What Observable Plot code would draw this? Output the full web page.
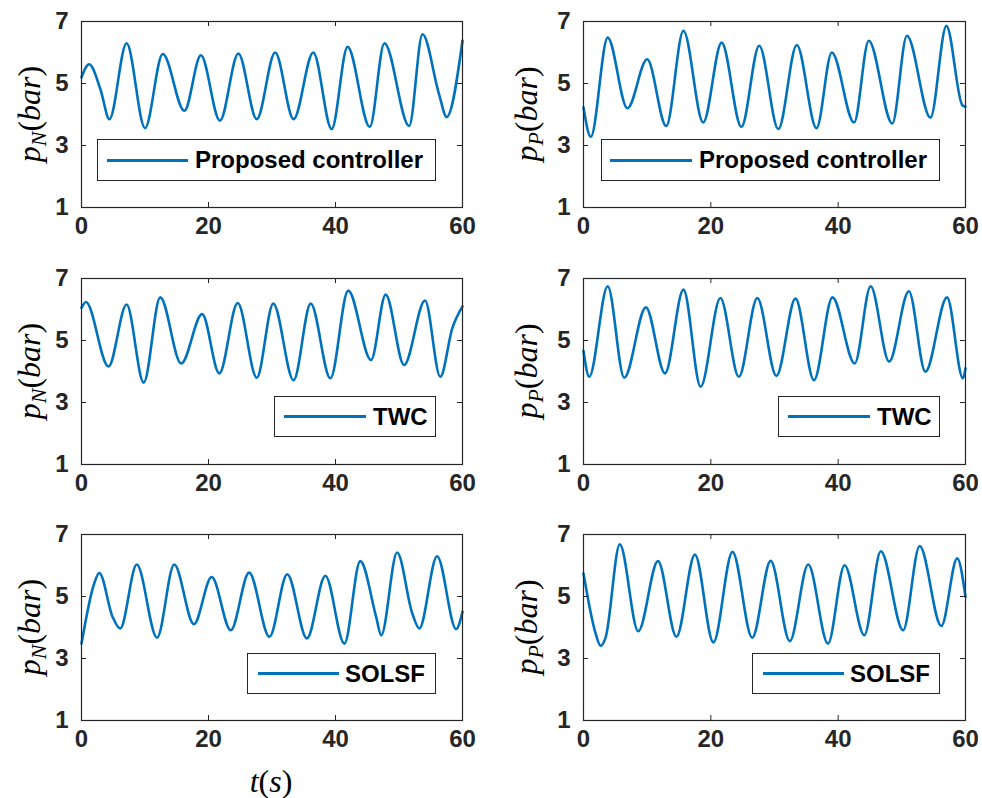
<!DOCTYPE html>
<html>
<head>
<meta charset="utf-8">
<script src="https://cdn.jsdelivr.net/npm/d3@7"></script>
<script src="https://cdn.jsdelivr.net/npm/@observablehq/plot@0.6"></script>
<style>
  body { margin: 0; background: #fff; }
  #root { position: relative; width: 982px; height: 798px; overflow: hidden; background: #fff;
          font-family: "Liberation Sans", Arial, sans-serif; }
  .panel { position: absolute; }
  .ylab { position: absolute; transform: translate(-50%, -50%) rotate(-90deg);
          font-family: "Liberation Serif", "DejaVu Serif", serif; font-size: 32px; white-space: nowrap; color: #000; }
  .ylab sub { font-size: 22px; vertical-align: -6px; }
  .xlab { position: absolute; transform: translate(-50%, -50%);
          font-family: "Liberation Serif", "DejaVu Serif", serif; font-size: 32px; white-space: nowrap; color: #000; }
  .legend { position: absolute; border: 1.3px solid #262626; background: #fff; box-sizing: border-box; }
  .legend .sw { position: absolute; top: 50%; height: 3px; margin-top: -1.5px; background: #0072BD; }
  .legend .lt { position: absolute; top: 50%; transform: translateY(-50%); font-weight: bold; font-size: 24px;
                color: #000; white-space: nowrap; line-height: 1; }
</style>
</head>
<body>
<div id="root"></div>
<script>
// ---- data (time in s, pressure in bar) ----
const xTicks = [0, 20, 40, 60];
const yTicks = [1, 3, 5, 7];
const legendNames = ["Proposed controller", "TWC", "SOLSF"];

const tNProposed = [0, 1.2, 3.0, 4.4, 7.1, 10.0, 12.8, 16.2, 18.8, 21.8, 24.7, 27.6, 30.5, 33.4, 36.5, 39.4, 41.9, 45.4, 47.7, 51.6, 53.7, 56.3, 57.5, 60];
const pNProposed = [5.2, 5.62, 4.8, 3.85, 6.3, 3.56, 5.95, 4.12, 5.91, 3.8, 5.97, 3.85, 6.0, 3.85, 6.0, 3.53, 6.18, 3.6, 6.3, 3.63, 6.59, 4.66, 3.92, 6.38];

const tPProposed = [0, 1.15, 3.8, 6.9, 10.0, 13.0, 15.7, 18.8, 21.7, 24.8, 27.6, 30.6, 33.5, 36.6, 39.0, 42.5, 44.8, 48.5, 50.8, 54.5, 57.0, 59.5, 60];
const pPProposed = [4.23, 3.28, 6.48, 4.2, 5.78, 3.63, 6.7, 3.74, 6.32, 3.6, 6.22, 3.53, 6.24, 3.56, 6.0, 3.74, 6.38, 3.71, 6.54, 3.9, 6.86, 4.3, 4.25];

const tNTWC = [0, 0.7, 4.25, 7.1, 9.8, 12.4, 15.7, 19.0, 21.7, 24.6, 27.6, 30.2, 33.4, 36.1, 39.2, 42.0, 45.6, 47.9, 50.8, 54.1, 56.5, 58.4, 60];
const pNTWC = [6.05, 6.24, 4.16, 6.16, 3.64, 6.39, 4.26, 5.85, 3.94, 6.21, 3.8, 6.19, 3.72, 6.19, 3.78, 6.61, 4.37, 6.48, 4.21, 6.29, 3.83, 5.4, 6.1];

const tPTWC = [0, 0.9, 3.8, 6.4, 9.8, 12.8, 15.7, 18.4, 21.5, 24.4, 27.3, 30.3, 33.3, 36.2, 39.1, 42.6, 45.1, 48.0, 51.1, 53.7, 57.1, 59.6, 60];
const pPTWC = [4.66, 3.83, 6.75, 3.8, 6.07, 3.94, 6.64, 3.51, 6.37, 3.83, 6.37, 3.86, 6.35, 3.72, 6.39, 4.26, 6.75, 4.32, 6.59, 3.99, 6.39, 3.78, 4.1];

const tNSOLSF = [0, 2.0, 2.8, 4.9, 6.1, 8.7, 11.9, 14.6, 17.7, 20.5, 23.5, 26.4, 29.6, 32.4, 35.5, 38.4, 41.4, 43.9, 46.4, 47.2, 49.7, 52.1, 53.2, 56.0, 59.0, 60];
const pNSOLSF = [3.48, 5.42, 5.76, 4.34, 3.97, 6.03, 3.67, 6.03, 4.11, 5.63, 3.91, 5.77, 3.7, 5.72, 3.65, 5.67, 3.48, 6.14, 4.34, 3.75, 6.42, 4.45, 3.97, 6.3, 3.95, 4.51];

const tPSOLSF = [0, 1.9, 2.7, 3.5, 5.7, 8.6, 11.7, 14.6, 17.5, 20.4, 23.4, 26.5, 29.4, 32.4, 35.3, 38.4, 41.0, 44.1, 46.7, 50.2, 52.8, 56.2, 58.7, 60];
const pPSOLSF = [5.74, 3.81, 3.41, 3.7, 6.68, 3.88, 6.14, 3.7, 6.35, 3.52, 6.44, 3.67, 6.15, 3.56, 6.03, 3.48, 6.01, 3.75, 6.46, 3.91, 6.63, 4.05, 6.23, 4.99];

// ---- layout ----
const root = document.getElementById("root");
const ink = "#262626";
const blue = "#0072BD";
const plotH = 186;
const rowTop = [0, 257, 513];
const colLeft = [0, 491];
const colMargins = [{ml: 81, mr: 29}, {ml: 92, mr: 17}];
const panelW = 491;

const panels = [
  {row: 0, col: 0, t: tNProposed, v: pNProposed, sub: "N", leg: 0, box: [97, 139, 339, 42], line: [9, 90], text: 97},
  {row: 0, col: 1, t: tPProposed, v: pPProposed, sub: "P", leg: 0, box: [601, 139, 339, 42], line: [8, 90], text: 97},
  {row: 1, col: 0, t: tNTWC, v: pNTWC, sub: "N", leg: 1, box: [274, 396, 162, 41], line: [9, 91], text: 98},
  {row: 1, col: 1, t: tPTWC, v: pPTWC, sub: "P", leg: 1, box: [778, 396, 162, 41], line: [9, 91], text: 98},
  {row: 2, col: 0, t: tNSOLSF, v: pNSOLSF, sub: "N", leg: 2, box: [247, 653, 189, 41], line: [10, 91], text: 97},
  {row: 2, col: 1, t: tPSOLSF, v: pPSOLSF, sub: "P", leg: 2, box: [752, 653, 188, 41], line: [10, 91], text: 97}
];

for (const p of panels) {
  const data = p.t.map((t, i) => ({t, v: p.v[i]}));
  const m = colMargins[p.col];
  const H = p.row === 2 ? 285 : 266;
  const chart = Plot.plot({
    width: panelW,
    height: H,
    marginLeft: m.ml,
    marginRight: m.mr,
    marginTop: 21,
    marginBottom: H - 21 - plotH,
    x: {domain: [0, 60]},
    y: {domain: [1, 7]},
    style: {fontFamily: "'Liberation Sans', Arial, sans-serif", fontSize: "24px", fontWeight: "bold",
            color: ink, background: "transparent", overflow: "visible"},
    marks: [
      Plot.line(data, {x: "t", y: "v", stroke: blue, strokeWidth: 2.6, curve: "monotone-x"}),
      Plot.tickX(xTicks, {x: d => d, insetTop: plotH - 5, stroke: ink, strokeWidth: 1}),
      Plot.tickX(xTicks, {x: d => d, insetBottom: plotH - 5, stroke: ink, strokeWidth: 1}),
      Plot.tickY(yTicks, {y: d => d, insetRight: panelW - m.ml - m.mr - 5, stroke: ink, strokeWidth: 1}),
      Plot.tickY(yTicks, {y: d => d, insetLeft: panelW - m.ml - m.mr - 5, stroke: ink, strokeWidth: 1}),
      Plot.frame({stroke: ink, strokeWidth: 1.2}),
      Plot.axisX(xTicks, {tickSize: 0, tickPadding: 9, label: null, fontSize: 24}),
      Plot.axisY(yTicks, {tickSize: 0, tickPadding: 13, label: null, fontSize: 24})
    ]
  });
  const wrap = document.createElement("div");
  wrap.className = "panel";
  wrap.style.left = colLeft[p.col] + "px";
  wrap.style.top = rowTop[p.row] + "px";
  wrap.appendChild(chart);
  root.appendChild(wrap);

  // y label
  const yl = document.createElement("div");
  yl.className = "ylab";
  yl.style.left = (p.col === 0 ? 31 : 528) + "px";
  yl.style.top = (rowTop[p.row] + 21 + plotH / 2) + "px";
  yl.innerHTML = `<i>p</i><sub><i>${p.sub}</i></sub>(<i>bar</i>)`;
  root.appendChild(yl);

  // legend box
  const lg = document.createElement("div");
  lg.className = "legend";
  lg.style.left = p.box[0] + "px";
  lg.style.top = p.box[1] + "px";
  lg.style.width = p.box[2] + "px";
  lg.style.height = p.box[3] + "px";
  const sw = document.createElement("div");
  sw.className = "sw";
  sw.style.left = p.line[0] + "px";
  sw.style.width = (p.line[1] - p.line[0]) + "px";
  const lt = document.createElement("div");
  lt.className = "lt";
  lt.style.left = p.text + "px";
  lt.textContent = legendNames[p.leg];
  lg.appendChild(sw);
  lg.appendChild(lt);
  root.appendChild(lg);
}

// x label (bottom-left panel only)
const xl = document.createElement("div");
xl.className = "xlab";
xl.style.left = "271px";
xl.style.top = "781px";
xl.innerHTML = `<i>t</i>(<i>s</i>)`;
root.appendChild(xl);
</script>
</body>
</html>
